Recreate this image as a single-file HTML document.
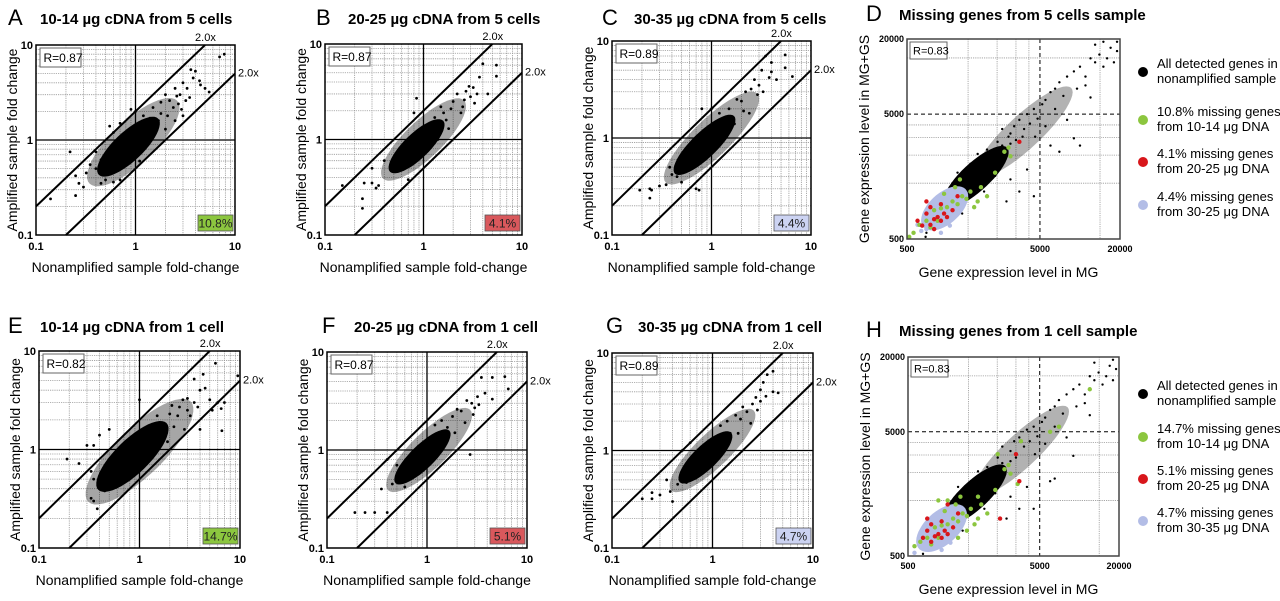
<!DOCTYPE html>
<html><head><meta charset="utf-8">
<style>
html,body{margin:0;padding:0;background:#fff;}
svg{display:block;font-family:"Liberation Sans",Arial,sans-serif;}
</style></head>
<body>
<svg id="fig" width="1280" height="601" viewBox="0 0 1280 601" xmlns="http://www.w3.org/2000/svg"></svg>
<script>
// ---------- data ----------
const foldTicks = ["0.1","1","10"];
const geneTicks = ["500","5000","20000"];
const minorTicks = [0.2,0.3,0.4,0.5,0.6,0.7,0.8,0.9,2,3,4,5,6,7,8,9];
const geneGridX = [1440,2380,3300,4130,14150];
const geneGridY = [1400,2350,3250,4100,14100];

const coreA = [0.85,0.85,0.42,0.15];
const haloA = [0.95,0.95,0.62,0.22];
const ptsA = [[0.14,0.24],[0.25,0.26],[0.22,0.75],[0.25,0.42],[0.27,0.35],[0.3,0.32],[0.32,0.45],[0.35,0.55],[0.4,0.5],[0.4,0.75],[0.45,0.62],[0.5,0.38],[0.55,1.4],[0.6,1.2],[0.7,1.5],[0.6,0.36],[0.9,2.1],[1.0,2.0],[1.2,1.8],[1.5,2.2],[1.6,1.4],[1.8,2.5],[2.0,3],[2.2,2.6],[2.5,3.5],[2.8,3],[3,4],[3.3,3.5],[3.5,2.8],[3,1.8],[2.5,1.6],[3.8,4.5],[4,5.3],[3.6,5.5],[4.4,4.2],[5,3.5],[5.5,3.2],[7,7.5],[7.8,8],[2,1.3],[1.8,1.9],[2.4,2.2],[2.6,2.9],[1.4,1.7],[1.3,1.1],[1.7,1.6],[2.1,1.8],[3.2,2.6],[2.7,2.4],[4.5,3.8],[2.9,2.1],[1.1,0.6],[0.45,0.35],[0.7,0.38]];
const coreB = [0.85,0.85,0.38,0.13];
const haloB = [1.0,1.0,0.58,0.19];
const ptsB = [[0.15,0.33],[0.25,0.35],[0.24,0.24],[0.24,0.19],[0.3,0.35],[0.33,0.31],[0.35,0.33],[0.3,0.5],[0.4,0.6],[0.5,0.55],[0.55,0.47],[0.7,0.38],[0.85,2.7],[0.8,1.9],[1.3,1.7],[1.5,2.2],[1.7,1.6],[2,2.5],[2.2,3],[2.5,2.2],[2.7,3.2],[3,2.8],[3.2,3.5],[3.5,3],[3.7,4.5],[4,6.2],[5.5,6],[5.5,4.6],[4.5,3],[1.8,1.3],[2.4,1.9],[1.9,2.1],[2.6,2.6],[3.3,2.4],[1.2,1.3],[1.6,1.9],[2.9,3.6],[1.4,1.0]];
const coreC = [0.85,0.85,0.42,0.13];
const haloC = [1.0,1.0,0.65,0.19];
const ptsC = [[0.19,0.29],[0.24,0.3],[0.24,0.24],[0.25,0.29],[0.3,0.32],[0.35,0.33],[0.4,0.42],[0.45,0.4],[0.5,0.35],[0.7,0.3],[0.75,0.29],[0.38,0.5],[0.45,0.55],[0.8,2.0],[1.0,2.0],[1.2,1.8],[1.5,2],[1.8,2.5],[2,2.4],[2.2,3],[2.5,3.2],[2.7,4],[3,3.5],[3.2,5],[3.5,7],[4,6],[4.5,4],[5.5,7.2],[5.5,5.3],[6.5,4.3],[3.8,4.2],[2.4,1.8],[1.7,1.4],[2.9,2.8],[3.3,3],[1.4,1.3],[2.1,1.9],[4,4.8]];
const coreE = [0.85,0.85,0.48,0.17];
const haloE = [1.0,0.95,0.72,0.24];
const ptsE = [[0.19,0.8],[0.25,0.72],[0.33,0.32],[0.35,0.3],[0.38,0.25],[0.35,0.5],[0.33,0.6],[0.3,1.1],[0.4,1.4],[0.5,1.6],[0.35,1.1],[0.45,0.38],[0.6,0.42],[1.0,3.2],[1.5,2.2],[1.8,1.8],[2,2.3],[2.2,1.7],[2.5,2.7],[2.7,3.2],[3,2.5],[3,3.3],[3.5,3],[3.2,2.2],[4,4],[4.5,4.2],[4.3,5.8],[3.5,5.2],[5.7,7.5],[5,3.2],[6,3],[6.5,2.6],[7,3],[9.5,5.6],[4,1.6],[6.6,1.55],[5.3,2.5],[2.8,1.6],[2.4,2.2],[1.3,1.6],[1.6,1.3],[2.1,2.8],[1.9,1.2],[3.8,2.7]];
const coreF = [0.9,0.85,0.38,0.12];
const haloF = [1.05,1.0,0.58,0.18];
const ptsF = [[0.19,0.23],[0.24,0.23],[0.3,0.23],[0.4,0.23],[0.35,0.4],[0.45,0.45],[0.5,0.5],[0.6,0.42],[0.4,0.8],[0.5,0.7],[0.55,0.6],[1.2,1.8],[1.4,2],[1.6,1.7],[1.8,2.2],[2,2.6],[2.2,2.5],[2.5,3.2],[2.8,3],[3,2.7],[3.2,3.5],[2.7,0.9],[1.9,1.5],[3.5,5.5],[4.5,5.5],[6,5.6],[6.5,4.2],[4.5,3.3],[3.8,3.8],[2.4,1.9],[1.5,1.3],[2.9,2.3],[1.3,1.5],[3.3,2.9]];
const coreG = [0.85,0.85,0.36,0.12];
const haloG = [1.0,1.0,0.58,0.17];
const ptsG = [[0.2,0.32],[0.25,0.32],[0.25,0.37],[0.3,0.35],[0.38,0.38],[0.35,0.5],[0.45,0.45],[0.55,0.47],[0.5,0.55],[0.4,0.3],[0.5,1.0],[0.6,1.2],[1.2,1.8],[1.4,2],[1.5,1.5],[1.7,2.3],[1.9,2.1],[2,2.8],[2.2,2.5],[2.5,3],[2.7,3.5],[3,3.2],[3,4.2],[3.2,5],[3.5,6],[4,6.5],[4,4],[4.5,3.9],[2.4,1.9],[1.8,1.5],[3.4,3.6],[2.8,2.6],[1.3,1.2]];

const coreD = [1650,1580,0.33,0.11];
const haloD = [3800,3600,0.5,0.13];
const blackD = [[700,560],[690,520],[800,800],[1000,1100],[1100,1400],[1200,1700],[1400,1500],[1500,2000],[1700,2400],[2000,2600],[2200,2400],[2400,3000],[2600,2800],[2500,2200],[3000,3500],[3200,4000],[3500,4500],[3800,3800],[4000,5000],[4200,4200],[4500,5500],[4800,4600],[5200,6000],[5500,6500],[6000,7500],[6500,8000],[7000,9000],[7500,7000],[8000,10000],[9000,11000],[10000,12000],[11000,10000],[12000,14000],[13000,13000],[14000,15000],[15000,12000],[16000,14000],[18000,13000],[19000,16000],[17000,17000],[13000,18000],[19000,19000],[15000,19000],[3000,1500],[3500,1200],[4500,1100],[4000,1800],[2800,1000],[6000,2800],[7000,2500],[9000,3200],[10000,2800],[8000,4500],[12000,6800],[11000,8500],[1600,900],[1300,800],[2600,3800],[3000,2900],[4600,3300],[5500,4000],[6500,5500],[9500,8000],[1900,1200],[2300,1600],[1100,750],[1500,1100],[2100,2000],[2700,2600],[3300,3100],[3700,3300],[2400,2600],[2900,3300]];
const greenD = [[520,520],[560,560],[620,650],[700,700],[800,850],[900,880],[1000,900],[1100,1000],[1200,950],[1300,1100],[1400,1050],[1500,1200],[1600,900],[1800,1300],[2000,1100],[2300,1700],[2700,2500],[3000,2300],[2900,2700],[1250,1500],[1150,1300],[950,1150],[850,700],[750,620],[1700,1000]];
const redD = [[600,700],[650,640],[700,800],[750,650],[800,600],[850,750],[900,700],[950,800],[1000,750],[750,900],[700,1000],[900,950],[1100,850],[1200,1100],[800,720],[3500,3000]];
const lavCoreD = [960,880,0.22,0.12];
const lavD = [[600,650],[700,600],[1000,700],[1100,750],[900,560],[1200,900],[1300,1000],[750,750],[640,580],[1050,640]];

const coreH = [1600,1550,0.33,0.11];
const haloH = [3600,3500,0.5,0.13];
const blackH = [[650,520],[700,600],[800,800],[1000,1150],[1100,1400],[1200,1800],[1400,1500],[1500,2000],[1700,2400],[2000,2600],[2200,2400],[2400,3100],[2600,2800],[2500,2200],[3000,3500],[3200,4200],[3500,4500],[3800,3800],[4000,5200],[4200,4200],[4500,5500],[4800,4600],[5200,6000],[5500,6500],[6000,7500],[6500,8000],[7000,9000],[7500,7000],[8000,10000],[9000,11000],[10000,12000],[11000,10000],[12000,14000],[13000,13000],[14000,15000],[15000,12000],[16000,14000],[18000,13000],[19000,16000],[17000,17000],[13000,18000],[18000,19000],[3000,1500],[3500,1200],[4500,1200],[4000,1800],[2800,1000],[6000,2000],[6500,2100],[9000,3200],[8000,4500],[12000,6800],[11000,8500],[1600,900],[1300,800],[2600,3800],[3000,2900],[4600,3300],[5500,4000],[6500,5500],[9500,8000],[1900,1200],[2300,1600],[1500,1100],[2100,2000],[2700,2600],[3300,3100],[2400,2600]];
const greenH = [[560,600],[620,650],[700,700],[800,850],[900,880],[1000,900],[1100,1000],[1200,950],[1300,1100],[1400,1050],[1500,1200],[1600,900],[1800,1300],[2000,1100],[2300,1700],[2700,2500],[3000,2300],[2900,2700],[1250,1500],[1150,1300],[950,1150],[850,700],[750,620],[1700,1000],[850,1400],[1000,1400],[2400,3300],[3600,4200],[6000,5000],[7000,5500],[12000,11000],[1400,800],[1200,700],[1700,1500],[3400,1900]];
const redH = [[650,700],[700,800],[750,650],[800,720],[850,750],[900,700],[950,800],[1000,750],[750,900],[700,1000],[900,950],[1100,850],[1200,1100],[1000,1300],[3300,3300],[3500,2000],[2500,1000]];
const lavCoreH = [900,840,0.24,0.13];
const lavH = [[560,530],[600,650],[700,600],[1000,700],[1100,750],[900,560],[1200,900],[750,750],[640,580],[1050,640],[850,1100]];

// ---------- drawing ----------
const NS = "http://www.w3.org/2000/svg";
const fig = document.getElementById('fig');
function mk(tag, attrs, parent, txt){
  const e = document.createElementNS(NS, tag);
  for (const k in attrs) e.setAttribute(k, attrs[k]);
  if (txt !== undefined) e.textContent = txt;
  (parent || fig).appendChild(e);
  return e;
}
const L = Math.log10;

function ellipsePath(core, sx, sy){
  const cx = L(core[0]), cy = L(core[1]), a = core[2], b = core[3];
  let d = "";
  for (let i = 0; i <= 48; i++){
    const t = i / 48 * 2 * Math.PI;
    const u = a * Math.cos(t), v = b * Math.sin(t);
    const lx = cx + (u - v) * 0.7071, ly = cy + (u + v) * 0.7071;
    d += (i ? "L" : "M") + sx(Math.pow(10, lx)).toFixed(1) + "," + sy(Math.pow(10, ly)).toFixed(1);
  }
  return d + "Z";
}

function foldPanel(p){
  const g = mk('g', {});
  
  
  const sx = v => p.x0 + (L(v) + 1) / 2 * (p.x1 - p.x0);
  const sy = v => p.y1 - (L(v) + 1) / 2 * (p.y1 - p.y0);
  const lt = mk('text', {x: p.lx, y: p.ty, 'font-size': 22}, g, p.letter);
  
  
  const tt = mk('text', {x: p.lx + 32, y: p.ty - 1, 'font-size': 15, 'font-weight': 'bold'}, g, p.title);
  
  
  const grid = mk('g', {stroke: '#999', 'stroke-width': 0.8, 'stroke-dasharray': '1.2,1'}, g);
  
  
  minorTicks.forEach(v => {
    mk('line', {x1: sx(v), x2: sx(v), y1: p.y0, y2: p.y1}, grid);
    mk('line', {x1: p.x0, x2: p.x1, y1: sy(v), y2: sy(v)}, grid);
  });
  mk('line', {x1: sx(1), x2: sx(1), y1: p.y0, y2: p.y1, stroke: '#000', 'stroke-width': 1.3}, g);
  mk('line', {x1: p.x0, x2: p.x1, y1: sy(1), y2: sy(1), stroke: '#000', 'stroke-width': 1.3}, g);
  const fr = mk('rect', {x: p.x0, y: p.y0, width: p.x1 - p.x0, height: p.y1 - p.y0, fill: 'none', stroke: '#000', 'stroke-width': 1.5}, g);
  
  
  const halo = mk('path', {d: ellipsePath(p.halo, sx, sy), fill: '#000', 'fill-opacity': 0.35}, g);
  
  
  const core = mk('path', {d: ellipsePath(p.core, sx, sy), fill: '#000'}, g);
  
  
  const pg = mk('g', {fill: '#000'}, g);
  
  
  p.pts.forEach(pt => {
    const c = mk('circle', {cx: sx(pt[0]), cy: sy(pt[1]), r: 1.4}, pg);
    
    
  });
  const d1 = mk('line', {x1: sx(0.1), y1: sy(0.2), x2: sx(5), y2: sy(10), stroke: '#000', 'stroke-width': 2}, g);
  
  
  const d2 = mk('line', {x1: sx(0.2), y1: sy(0.1), x2: sx(10), y2: sy(5), stroke: '#000', 'stroke-width': 2}, g);
  
  
  mk('text', {x: sx(5) - 10, y: p.y0 - 4, 'font-size': 11}, g, '2.0x');
  mk('text', {x: p.x1 + 3, y: sy(5) + 3, 'font-size': 11}, g, '2.0x');
  [0.1, 1, 10].forEach((v, i) => {
    const ty = mk('text', {x: p.x0 - 3, y: sy(v) + 4, 'font-size': 11, 'font-weight': 'bold', 'text-anchor': 'end'}, g, foldTicks[i]);
    
    
    const tx = mk('text', {x: sx(v), y: p.y1 + 15, 'font-size': 11, 'font-weight': 'bold', 'text-anchor': 'middle'}, g, foldTicks[i]);
    
    
  });
  const cyc = (p.y0 + p.y1) / 2;
  const yl = mk('text', {x: p.x0 - 19, y: cyc, 'font-size': 14, 'text-anchor': 'middle', transform: 'rotate(-90 ' + (p.x0 - 19) + ' ' + cyc + ')'}, g, 'Amplified sample fold change');
  
  
  const xl = mk('text', {x: (p.x0 + p.x1) / 2, y: p.y1 + 37, 'font-size': 14, 'text-anchor': 'middle'}, g, 'Nonamplified sample fold-change');
  
  
  const rb = mk('g', {}, g);
  
  
  mk('rect', {x: p.x0 + 4, y: p.y0 + 3, width: 41, height: 19, fill: '#fff', stroke: '#666', 'stroke-width': 1}, rb);
  mk('text', {x: p.x0 + 7.5, y: p.y0 + 17, 'font-size': 12}, rb, p.R);
  const pb = mk('g', {}, g);
  
  
  mk('rect', {x: p.x1 - 37, y: p.y1 - 20, width: 35, height: 16, fill: p.pc, stroke: '#555', 'stroke-width': 0.8}, pb);
  mk('text', {x: p.x1 - 19.5, y: p.y1 - 7.5, 'font-size': 12, 'text-anchor': 'middle', fill: '#222'}, pb, p.pct);
}

const GREEN = '#8cc63f', RED = '#d8161b', LAV = '#b3bde6';

function genePanel(p){
  const g = mk('g', {});
  
  
  const lr = L(40);
  const sx = v => p.x0 + (L(v) - L(500)) / lr * (p.x1 - p.x0);
  const sy = v => p.y1 - (L(v) - L(500)) / lr * (p.y1 - p.y0);
  mk('text', {x: p.lx, y: p.ty, 'font-size': 22}, g, p.letter);
  const tt = mk('text', {x: p.lx + 33, y: p.ty - 1, 'font-size': 15, 'font-weight': 'bold'}, g, p.title);
  
  
  const grid = mk('g', {stroke: '#999', 'stroke-width': 0.8, 'stroke-dasharray': '1.2,1'}, g);
  
  
  geneGridX.forEach(v => mk('line', {x1: sx(v), x2: sx(v), y1: p.y0, y2: p.y1}, grid));
  geneGridY.forEach(v => mk('line', {x1: p.x0, x2: p.x1, y1: sy(v), y2: sy(v)}, grid));
  mk('line', {x1: sx(5000), x2: sx(5000), y1: p.y0, y2: p.y1, stroke: '#000', 'stroke-width': 1, 'stroke-dasharray': '4,3'}, g);
  mk('line', {x1: p.x0, x2: p.x1, y1: sy(5000), y2: sy(5000), stroke: '#000', 'stroke-width': 1, 'stroke-dasharray': '4,3'}, g);
  const bg = mk('g', {fill: '#000'}, g);
  
  
  mk('path', {d: ellipsePath(p.halo, sx, sy), 'fill-opacity': 0.3}, bg);
  mk('path', {d: ellipsePath(p.core, sx, sy)}, bg);
  p.black.forEach(pt => {
    const c = mk('circle', {cx: sx(pt[0]), cy: sy(pt[1]), r: 1.2}, bg);
    
    
  });
  const lg = mk('g', {fill: LAV}, g);
  
  
  mk('path', {d: ellipsePath(p.lavCore, sx, sy)}, lg);
  p.lav.forEach(pt => {
    const c = mk('circle', {cx: sx(pt[0]), cy: sy(pt[1]), r: 2.2}, lg);
    
    
  });
  const gg = mk('g', {fill: GREEN}, g);
  
  
  p.green.forEach(pt => {
    const c = mk('circle', {cx: sx(pt[0]), cy: sy(pt[1]), r: 2.2}, gg);
    
    
  });
  const rg = mk('g', {fill: RED}, g);
  
  
  p.red.forEach(pt => {
    const c = mk('circle', {cx: sx(pt[0]), cy: sy(pt[1]), r: 2.2}, rg);
    
    
  });
  const fr = mk('rect', {x: p.x0, y: p.y0, width: p.x1 - p.x0, height: p.y1 - p.y0, fill: 'none', stroke: '#444', 'stroke-width': 1.5}, g);
  
  
  [500, 5000, 20000].forEach((v, i) => {
    mk('text', {x: p.x0 - 3, y: sy(v) + 3, 'font-size': 9, 'font-weight': 'bold', 'text-anchor': 'end'}, g, geneTicks[i]);
    mk('text', {x: sx(v), y: p.y1 + 13, 'font-size': 9, 'font-weight': 'bold', 'text-anchor': 'middle'}, g, geneTicks[i]);
  });
  const cyc = (p.y0 + p.y1) / 2;
  const yl = mk('text', {x: p.x0 - 38, y: cyc, 'font-size': 14, 'text-anchor': 'middle', transform: 'rotate(-90 ' + (p.x0 - 38) + ' ' + cyc + ')'}, g, 'Gene expression level in MG+GS');
  
  
  const xl = mk('text', {x: (p.x0 + p.x1) / 2 - 5, y: p.xly, 'font-size': 14, 'text-anchor': 'middle'}, g, 'Gene expression level in MG');
  
  
  const rb = mk('g', {}, g);
  
  
  mk('rect', {x: p.x0 + 3, y: p.y0 + 3, width: 37, height: 17, fill: '#fff', stroke: '#666', 'stroke-width': 1}, rb);
  mk('text', {x: p.x0 + 6, y: p.y0 + 15.5, 'font-size': 11}, rb, 'R=0.83');
  const leg = mk('g', {}, g);
  
  
  const cols = ['#000', GREEN, RED, LAV];
  p.legend.forEach((lines, i) => {
    const e = mk('g', {}, leg);
    
    
    const y = p.legY[i];
    mk('circle', {cx: 1143, cy: y + 2, r: 5, fill: cols[i]}, e);
    mk('text', {x: 1157, y: y - 2, 'font-size': 13}, e, lines[0]);
    mk('text', {x: 1157, y: y + 13, 'font-size': 13}, e, lines[1]);
  });
}

foldPanel({letter:'A', title:'10-14 \u00b5g cDNA from 5 cells', lx:8, ty:25, x0:36, x1:235, y0:45, y1:235, core:coreA, halo:haloA, pts:ptsA, R:'R=0.87', pct:'10.8%', pc:GREEN});
foldPanel({letter:'B', title:'20-25 \u00b5g cDNA from 5 cells', lx:316, ty:25, x0:325, x1:522, y0:44, y1:235, core:coreB, halo:haloB, pts:ptsB, R:'R=0.87', pct:'4.1%', pc:'#d9585c'});
foldPanel({letter:'C', title:'30-35 \u00b5g cDNA from 5 cells', lx:602, ty:25, x0:612, x1:811, y0:41, y1:235, core:coreC, halo:haloC, pts:ptsC, R:'R=0.89', pct:'4.4%', pc:'#ccd3f2'});
foldPanel({letter:'E', title:'10-14 \u00b5g cDNA from 1 cell', lx:8, ty:333, x0:39, x1:240, y0:351, y1:548, core:coreE, halo:haloE, pts:ptsE, R:'R=0.82', pct:'14.7%', pc:GREEN});
foldPanel({letter:'F', title:'20-25 \u00b5g cDNA from 1 cell', lx:322, ty:333, x0:327, x1:527, y0:352, y1:548, core:coreF, halo:haloF, pts:ptsF, R:'R=0.87', pct:'5.1%', pc:'#d9585c'});
foldPanel({letter:'G', title:'30-35 \u00b5g cDNA from 1 cell', lx:606, ty:333, x0:612, x1:813, y0:353, y1:548, core:coreG, halo:haloG, pts:ptsG, R:'R=0.89', pct:'4.7%', pc:'#ccd3f2'});

genePanel({letter:'D', title:'Missing genes from 5 cells sample', lx:866, ty:21, x0:907, x1:1120, y0:39, y1:239, xly:277,
  core:coreD, halo:haloD, black:blackD, green:greenD, red:redD, lavCore:lavCoreD, lav:lavD, legY:[70,118,160,203],
  legend:[['All detected genes in','nonamplified sample'],['10.8% missing genes','from 10-14 \u03bcg DNA'],['4.1% missing genes','from 20-25 \u03bcg DNA'],['4.4% missing genes','from 30-25 \u03bcg DNA']]});
genePanel({letter:'H', title:'Missing genes from 1 cell sample', lx:866, ty:337, x0:908, x1:1119, y0:357, y1:556, xly:594,
  core:coreH, halo:haloH, black:blackH, green:greenH, red:redH, lavCore:lavCoreH, lav:lavH, legY:[392,435,477,519],
  legend:[['All detected genes in','nonamplified sample'],['14.7% missing genes','from 10-14 \u03bcg DNA'],['5.1% missing genes','from 20-25 \u03bcg DNA'],['4.7% missing genes','from 30-35 \u03bcg DNA']]});
</script>
</body></html>
